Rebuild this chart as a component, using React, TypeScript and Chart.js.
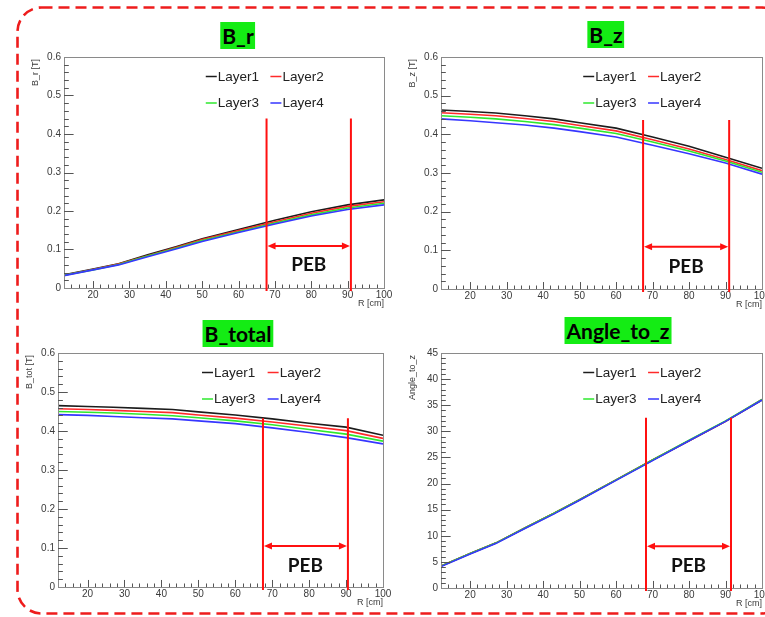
import React, { useEffect, useRef } from "react";
import { Chart, registerables } from "chart.js";

Chart.register(...registerables);

// Radial sample positions (cm)
const R_CM = [12, 20, 27, 35, 43, 50, 60, 70, 80, 90, 100];
const X_MIN = 12;
const X_MAX = 100;
const X_TICKS = [20, 30, 40, 50, 60, 70, 80, 90, 100];

const LAYERS = ["Layer1", "Layer2", "Layer3", "Layer4"];
const LAYER_COLORS = ["#1c1c1c", "#ff2a2a", "#2ee82e", "#3636ff"];

// Radial field component [T]
const BR_LAYER1 = [0.034, 0.049, 0.063, 0.086, 0.108, 0.128, 0.152, 0.176, 0.198, 0.216, 0.229];
const BR_LAYER2 = [0.033, 0.048, 0.062, 0.084, 0.106, 0.126, 0.149, 0.172, 0.194, 0.212, 0.224];
const BR_LAYER3 = [0.033, 0.047, 0.061, 0.083, 0.104, 0.123, 0.146, 0.169, 0.19, 0.208, 0.22];
const BR_LAYER4 = [0.032, 0.047, 0.06, 0.081, 0.102, 0.121, 0.144, 0.166, 0.187, 0.204, 0.216];

// Axial field component [T]
const BZ_LAYER1 = [0.463, 0.459, 0.455, 0.448, 0.44, 0.43, 0.416, 0.393, 0.369, 0.341, 0.312];
const BZ_LAYER2 = [0.456, 0.452, 0.448, 0.441, 0.433, 0.423, 0.409, 0.386, 0.362, 0.335, 0.306];
const BZ_LAYER3 = [0.448, 0.444, 0.44, 0.433, 0.425, 0.416, 0.402, 0.38, 0.357, 0.331, 0.302];
const BZ_LAYER4 = [0.44, 0.435, 0.43, 0.424, 0.416, 0.407, 0.393, 0.372, 0.35, 0.326, 0.297];

// Total field [T]
const BTOT_LAYER1 = [0.465, 0.463, 0.461, 0.458, 0.455, 0.449, 0.441, 0.431, 0.42, 0.41, 0.389];
const BTOT_LAYER2 = [0.457, 0.455, 0.453, 0.45, 0.447, 0.441, 0.433, 0.423, 0.412, 0.401, 0.381];
const BTOT_LAYER3 = [0.45, 0.448, 0.446, 0.443, 0.439, 0.434, 0.426, 0.416, 0.404, 0.392, 0.374];
const BTOT_LAYER4 = [0.442, 0.44, 0.437, 0.434, 0.431, 0.426, 0.419, 0.408, 0.396, 0.383, 0.367];

// Field angle to the z axis [deg]
const ANGLE_LAYER1 = [4.2, 6.6, 8.6, 11.5, 14.3, 16.9, 20.7, 24.5, 28.2, 31.9, 36.0];
const ANGLE_LAYER2 = [4.2, 6.6, 8.6, 11.5, 14.3, 16.9, 20.7, 24.5, 28.2, 31.9, 36.1];
const ANGLE_LAYER3 = [4.2, 6.6, 8.6, 11.5, 14.3, 16.9, 20.7, 24.5, 28.3, 32.0, 36.1];
const ANGLE_LAYER4 = [4.1, 6.5, 8.5, 11.4, 14.2, 16.8, 20.6, 24.4, 28.2, 31.9, 36.0];

const Y_TICKS_FIELD = [0, 0.1, 0.2, 0.3, 0.4, 0.5, 0.6];
const Y_TICKS_ANGLE = [0, 5, 10, 15, 20, 25, 30, 35, 40, 45];

// PEB region: edges in R, then top of the markers, arrow level, label level
const PEB_BR = [67.7, 90.9];
const PEB_BZ = [67.4, 91.0];
const PEB_BTOT = [67.5, 90.5];
const PEB_ANGLE = [68.2, 91.5];
const PEB_LEVELS_BR = [0.44, 0.109, 0.06];
const PEB_LEVELS_BZ = [0.437, 0.109, 0.057];
const PEB_LEVELS_BTOT = [0.433, 0.105, 0.054];
const PEB_LEVELS_ANGLE = [32.6, 8.0, 4.2];

type Rect = { x: number; y: number; w: number; h: number };
type Frame = { l: number; t: number; r: number; b: number };

type PanelCfg = {
  title: string;
  titleCx: number;
  titleTop: number;
  yTitle: string;
  yMax: number;
  yTicks: number[];
  yMinor: number;
  series: number[][];
  peb: number[];
  pebLevels: number[];
  canvas: Rect;
  frame: Frame;
};

const PANELS: PanelCfg[] = [
  {
    title: "B_r",
    titleCx: 238,
    titleTop: 22,
    yTitle: "B_r [T]",
    yMax: 0.6,
    yTicks: Y_TICKS_FIELD,
    yMinor: 0.02,
    series: [BR_LAYER1, BR_LAYER2, BR_LAYER3, BR_LAYER4],
    peb: PEB_BR,
    pebLevels: PEB_LEVELS_BR,
    canvas: { x: 0, y: 40, w: 398, h: 275 },
    frame: { l: 64, t: 57, r: 384, b: 288 },
  },
  {
    title: "B_z",
    titleCx: 606,
    titleTop: 21,
    yTitle: "B_z [T]",
    yMax: 0.6,
    yTicks: Y_TICKS_FIELD,
    yMinor: 0.02,
    series: [BZ_LAYER1, BZ_LAYER2, BZ_LAYER3, BZ_LAYER4],
    peb: PEB_BZ,
    pebLevels: PEB_LEVELS_BZ,
    canvas: { x: 398, y: 40, w: 367, h: 275 },
    frame: { l: 441, t: 57, r: 762, b: 289 },
  },
  {
    title: "B_total",
    titleCx: 238,
    titleTop: 320,
    yTitle: "B_tot [T]",
    yMax: 0.6,
    yTicks: Y_TICKS_FIELD,
    yMinor: 0.02,
    series: [BTOT_LAYER1, BTOT_LAYER2, BTOT_LAYER3, BTOT_LAYER4],
    peb: PEB_BTOT,
    pebLevels: PEB_LEVELS_BTOT,
    canvas: { x: 0, y: 340, w: 398, h: 277 },
    frame: { l: 58, t: 353, r: 383, b: 587 },
  },
  {
    title: "Angle_to_z",
    titleCx: 618,
    titleTop: 317,
    yTitle: "Angle_to_z",
    yMax: 45,
    yTicks: Y_TICKS_ANGLE,
    yMinor: 1,
    series: [ANGLE_LAYER1, ANGLE_LAYER2, ANGLE_LAYER3, ANGLE_LAYER4],
    peb: PEB_ANGLE,
    pebLevels: PEB_LEVELS_ANGLE,
    canvas: { x: 398, y: 340, w: 367, h: 277 },
    frame: { l: 441, t: 353, r: 762, b: 588 },
  },
];

const AXIS_FONT = "'Liberation Sans', Arial, Helvetica, sans-serif";
const TITLE_FONT = "Lato, 'Open Sans', 'Liberation Sans', sans-serif";

function decoPlugin(cfg: PanelCfg) {
  return {
    id: "rootDeco",
    afterDraw(chart: any) {
      const { ctx, chartArea: a } = chart;
      const xs = chart.scales.x;
      const ys = chart.scales.y;
      const w = a.right - a.left;
      const h = a.bottom - a.top;
      const px = (v: number) => Math.round(v) + 0.5;
      ctx.save();

      // frame
      ctx.strokeStyle = "#8a8a8a";
      ctx.lineWidth = 1;
      ctx.strokeRect(px(a.left), px(a.top), Math.round(w), Math.round(h));

      // ticks drawn inward, ROOT style
      ctx.strokeStyle = "#555";
      ctx.beginPath();
      const xMajorLen = 0.03 * h;
      for (let v = X_MIN + 2; v < X_MAX; v += 2) {
        const X = px(xs.getPixelForValue(v));
        const len = v % 10 === 0 ? xMajorLen : xMajorLen / 2;
        ctx.moveTo(X, a.bottom);
        ctx.lineTo(X, a.bottom - len);
      }
      const yMajorLen = 0.03 * w;
      const nMinor = Math.round(cfg.yMax / cfg.yMinor);
      for (let i = 1; i < nMinor; i++) {
        const Y = px(ys.getPixelForValue(i * cfg.yMinor));
        const len = i % 5 === 0 ? yMajorLen : yMajorLen / 2;
        ctx.moveTo(a.left, Y);
        ctx.lineTo(a.left + len, Y);
      }
      ctx.stroke();

      // axis titles
      ctx.fillStyle = "#3a3a3a";
      ctx.font = `9px ${AXIS_FONT}`;
      ctx.textBaseline = "middle";
      ctx.textAlign = "right";
      ctx.fillText("R [cm]", a.right, a.bottom + 15.5);
      ctx.save();
      ctx.translate(a.left - 28, a.top + 2);
      ctx.rotate(-Math.PI / 2);
      ctx.fillText(cfg.yTitle, 0, 0);
      ctx.restore();

      // PEB markers
      const [r1, r2] = cfg.peb;
      const [topV, arrowV, labelV] = cfg.pebLevels;
      const x1 = xs.getPixelForValue(r1);
      const x2 = xs.getPixelForValue(r2);
      const yTop = ys.getPixelForValue(topV);
      ctx.strokeStyle = "#ff1010";
      ctx.fillStyle = "#ff1010";
      ctx.lineWidth = 2;
      ctx.beginPath();
      ctx.moveTo(x1, yTop);
      ctx.lineTo(x1, a.bottom + 3);
      ctx.moveTo(x2, yTop);
      ctx.lineTo(x2, a.bottom + 3);
      ctx.stroke();
      const yA = ys.getPixelForValue(arrowV);
      const head = 8;
      const hw = 3.5;
      ctx.beginPath();
      ctx.moveTo(x1 + head, yA);
      ctx.lineTo(x2 - head, yA);
      ctx.stroke();
      ctx.beginPath();
      ctx.moveTo(x1 + 1, yA);
      ctx.lineTo(x1 + 1 + head, yA - hw);
      ctx.lineTo(x1 + 1 + head, yA + hw);
      ctx.closePath();
      ctx.moveTo(x2 - 1, yA);
      ctx.lineTo(x2 - 1 - head, yA - hw);
      ctx.lineTo(x2 - 1 - head, yA + hw);
      ctx.closePath();
      ctx.fill();
      ctx.fillStyle = "#111";
      ctx.font = `bold 19px ${TITLE_FONT}`;
      ctx.textAlign = "center";
      ctx.textBaseline = "middle";
      ctx.fillText("PEB", (x1 + x2) / 2, ys.getPixelForValue(labelV));

      // legend, two columns inside the frame
      ctx.font = `13.5px ${AXIS_FONT}`;
      ctx.textAlign = "left";
      chart.data.datasets.forEach((ds: any, i: number) => {
        const col = i % 2;
        const row = Math.floor(i / 2);
        const lx = a.left + w * (col === 0 ? 0.443 : 0.645);
        const ly = a.top + (row === 0 ? 19.5 : 46);
        ctx.strokeStyle = ds.borderColor;
        ctx.lineWidth = 1.5;
        ctx.beginPath();
        ctx.moveTo(lx, ly);
        ctx.lineTo(lx + 11, ly);
        ctx.stroke();
        ctx.fillStyle = "#222";
        ctx.fillText(ds.label, lx + 12, ly + 0.5);
      });

      ctx.restore();
    },
  };
}

function Panel({ cfg }: { cfg: PanelCfg }) {
  const ref = useRef<HTMLCanvasElement | null>(null);

  useEffect(() => {
    if (!ref.current) return;
    const { canvas: c, frame: f } = cfg;
    const yAxisW = f.l - c.x;
    const xAxisH = c.y + c.h - f.b;
    const chart = new Chart(ref.current, {
      type: "line",
      data: {
        datasets: cfg.series.map((vals, i) => ({
          label: LAYERS[i],
          data: R_CM.map((r, k) => ({ x: r, y: vals[k] })),
          borderColor: LAYER_COLORS[i],
          backgroundColor: LAYER_COLORS[i],
          borderWidth: 1.6,
          pointRadius: 0,
          tension: 0,
          fill: false,
          order: LAYERS.length - 1 - i,
        })),
      },
      options: {
        animation: false,
        responsive: false,
        events: [],
        layout: {
          padding: { left: 0, top: f.t - c.y, right: c.x + c.w - f.r, bottom: 0 },
        },
        plugins: {
          legend: { display: false },
          title: { display: false },
          tooltip: { enabled: false },
        },
        scales: {
          x: {
            type: "linear",
            min: X_MIN,
            max: X_MAX,
            grid: { display: false, drawTicks: false, tickLength: 0 },
            border: { display: false },
            afterBuildTicks: (s: any) => {
              s.ticks = X_TICKS.map((v) => ({ value: v }));
            },
            afterFit: (s: any) => {
              s.height = xAxisH;
              s.paddingLeft = 0;
              s.paddingRight = 0;
            },
            ticks: {
              padding: 1,
              color: "#3a3a3a",
              font: { family: AXIS_FONT, size: 10 },
              maxRotation: 0,
              autoSkip: false,
              callback: (v: any) => String(v),
            },
          },
          y: {
            type: "linear",
            min: 0,
            max: cfg.yMax,
            grid: { display: false, drawTicks: false, tickLength: 0 },
            border: { display: false },
            afterBuildTicks: (s: any) => {
              s.ticks = cfg.yTicks.map((v) => ({ value: v }));
            },
            afterFit: (s: any) => {
              s.width = yAxisW;
              s.paddingTop = 0;
              s.paddingBottom = 0;
            },
            ticks: {
              padding: 3,
              color: "#3a3a3a",
              font: { family: AXIS_FONT, size: 10 },
              autoSkip: false,
              callback: (v: any) => String(v),
            },
          },
        },
      },
      plugins: [decoPlugin(cfg)],
    } as any);
    return () => chart.destroy();
  }, [cfg]);

  const { canvas: c } = cfg;
  return (
    <>
      <canvas
        ref={ref}
        width={c.w}
        height={c.h}
        style={{ position: "absolute", left: c.x, top: c.y, width: c.w, height: c.h }}
      />
      <div
        style={{
          position: "absolute",
          left: cfg.titleCx,
          top: cfg.titleTop,
          transform: "translateX(-50%)",
          background: "#14ec14",
          color: "#000",
          fontFamily: TITLE_FONT,
          fontWeight: 700,
          fontSize: 21,
          lineHeight: "27px",
          height: 27,
          padding: "0 2px",
          whiteSpace: "nowrap",
        }}
      >
        {cfg.title}
      </div>
    </>
  );
}

export default function App() {
  return (
    <div
      style={{
        position: "absolute",
        left: 0,
        top: 0,
        width: 765,
        height: 617,
        overflow: "hidden",
        background: "#fff",
      }}
    >
      {PANELS.map((p) => (
        <Panel key={p.title} cfg={p} />
      ))}
      <svg
        width={765}
        height={617}
        style={{ position: "absolute", left: 0, top: 0, pointerEvents: "none" }}
      >
        <rect
          x={17.5}
          y={7.5}
          width={768}
          height={606}
          rx={24}
          ry={24}
          fill="none"
          stroke="#ee1c1c"
          strokeWidth={2.6}
          strokeDasharray="11 6"
        />
      </svg>
    </div>
  );
}
